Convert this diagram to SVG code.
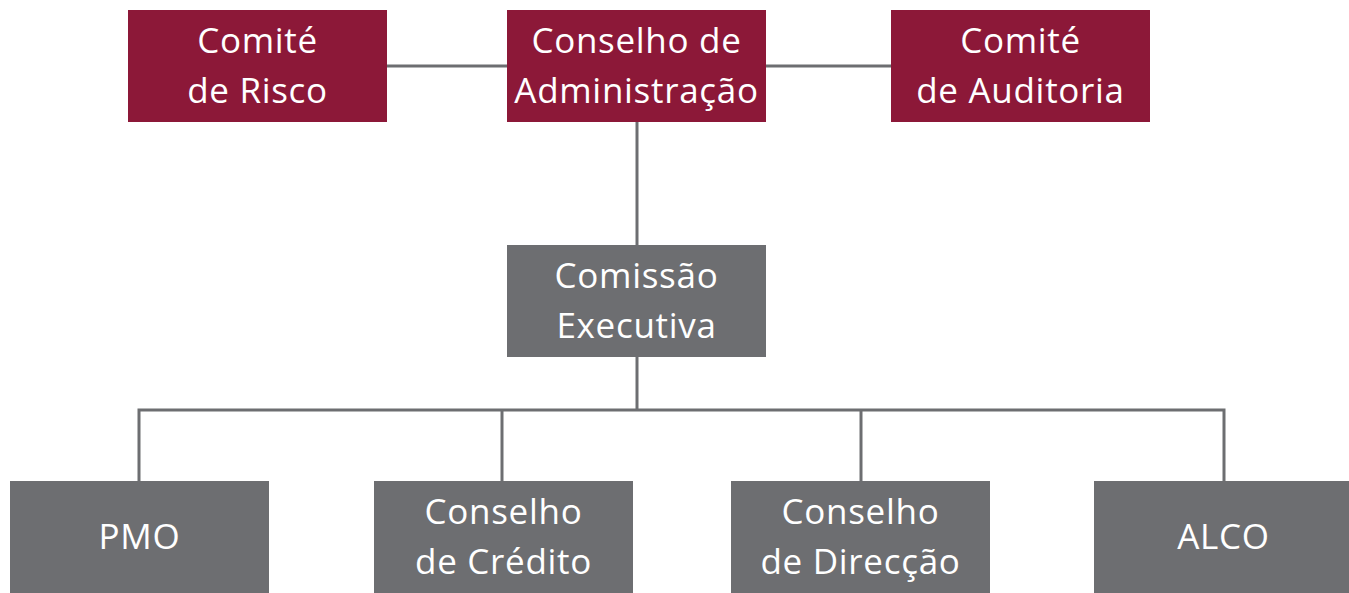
<svg xmlns="http://www.w3.org/2000/svg" width="1349" height="593" viewBox="0 0 1349 593">
<style>
.red{fill:#8c1838}
.grey{fill:#6d6e71}
.t{font-family:"Open Sans","Liberation Sans",sans-serif;font-size:35px;letter-spacing:0.7px;fill:#ffffff;text-anchor:middle}
.c{stroke:#6d6e71;stroke-width:3;fill:none}
</style>
<rect width="1349" height="593" fill="#ffffff"/>
<g id="connectors">
<line class="c" x1="387" y1="66" x2="507" y2="66"/>
<line class="c" x1="766" y1="66" x2="891" y2="66"/>
<line class="c" x1="637" y1="122" x2="637" y2="245"/>
<line class="c" x1="637" y1="357" x2="637" y2="410"/>
<polyline class="c" points="139,481 139,410 1224,410 1224,481"/>
<line class="c" x1="502" y1="410" x2="502" y2="481"/>
<line class="c" x1="861" y1="410" x2="861" y2="481"/>
</g>
<g id="comite-risco">
<rect class="red" x="128" y="10" width="259" height="112"/>
<text class="t" x="257.5" y="53">Comité</text>
<text class="t" x="257.5" y="103">de Risco</text>
</g>
<g id="conselho-administracao">
<rect class="red" x="507" y="10" width="259" height="112"/>
<text class="t" x="636.5" y="53">Conselho de</text>
<text class="t" x="636.5" y="103">Administração</text>
</g>
<g id="comite-auditoria">
<rect class="red" x="891" y="10" width="259" height="112"/>
<text class="t" x="1020.5" y="53">Comité</text>
<text class="t" x="1020.5" y="103">de Auditoria</text>
</g>
<g id="comissao-executiva">
<rect class="grey" x="507" y="245" width="259" height="112"/>
<text class="t" x="636.5" y="288">Comissão</text>
<text class="t" x="636.5" y="338">Executiva</text>
</g>
<g id="pmo">
<rect class="grey" x="10" y="481" width="259" height="112"/>
<text class="t" x="139.5" y="549">PMO</text>
</g>
<g id="conselho-credito">
<rect class="grey" x="374" y="481" width="259" height="112"/>
<text class="t" x="503.5" y="524">Conselho</text>
<text class="t" x="503.5" y="574">de Crédito</text>
</g>
<g id="conselho-direccao">
<rect class="grey" x="731" y="481" width="259" height="112"/>
<text class="t" x="860.5" y="524">Conselho</text>
<text class="t" x="860.5" y="574">de Direcção</text>
</g>
<g id="alco">
<rect class="grey" x="1094" y="481" width="256" height="112"/>
<text class="t" x="1223.5" y="549">ALCO</text>
</g>
</svg>
